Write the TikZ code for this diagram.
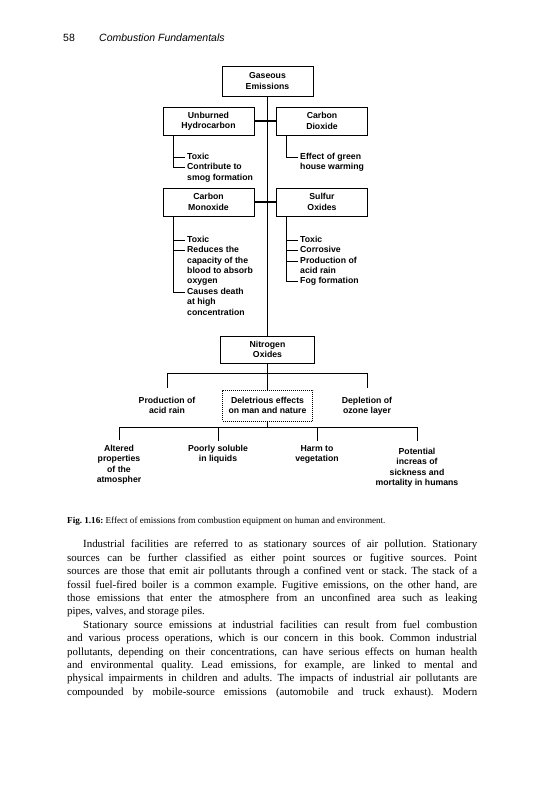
\documentclass[tikz,border=0pt]{standalone}
\usepackage{fontspec}
\setmainfont{Liberation Serif}
\setsansfont{Liberation Sans}
\usetikzlibrary{positioning,calc}
\frenchspacing

\newcommand\diagtext{\sffamily\bfseries\fontsize{8.7}{10.4}\selectfont}
\newcommand\stackl[1]{\begin{tabular}[t]{@{}l@{}}#1\end{tabular}}
\newcommand\stackc[1]{\begin{tabular}[t]{@{}c@{}}#1\end{tabular}}

\tikzset{
  emission/.style={draw, line width=0.9pt, minimum width=91pt, minimum height=28pt,
    inner sep=0pt, align=center, font=\diagtext},
  effectnote/.style={inner sep=0pt, anchor=mid west, font=\diagtext},
  effect/.style={inner sep=0pt, anchor=mid, font=\diagtext},
  trunk/.style={line width=1.1pt},
  branch/.style={line width=0.6pt},
}

\begin{document}
\begin{tikzpicture}[x=1pt,y=-1pt]
  \useasboundingbox (0,0) rectangle (535,800);

  % Running head
  \node[anchor=west, inner sep=0pt, font=\sffamily\fontsize{10.5}{12}\selectfont] (pagenum) at (63,38) {58};
  \node[anchor=west, inner sep=0pt, font=\sffamily\itshape\fontsize{10.5}{12}\selectfont] (runhead) at (99,38) {Combustion Fundamentals};

  % Pollutant boxes
  \node[emission, minimum height=30pt] (gas) at (267.5,81) {Gaseous\\Emissions};
  \node[emission] (uhc) at (208.5,121) {Unburned\\Hydrocarbon};
  \node[emission] (cdx) at (322,121) {Carbon\\Dioxide};
  \node[emission] (cmo) at (208.5,202) {Carbon\\Monoxide};
  \node[emission] (sox) at (322,202) {Sulfur\\Oxides};
  \node[emission, minimum width=94pt, minimum height=27pt] (nox) at (267.5,349.5) {Nitrogen\\Oxides};

  \draw[trunk] (gas.south) -- (nox.north);
  \draw[trunk] (uhc.east) -- (cdx.west);
  \draw[trunk] (cmo.east) -- (sox.west);

  % Effects of unburned hydrocarbon
  \coordinate (uhcbar) at ($(uhc.south west)+(11,0)$);
  \node[effectnote] (uhc1) at (187,157) {Toxic};
  \node[effectnote] (uhc2) at (187,167.4) {\stackl{Contribute to\\smog formation}};
  \draw[branch] (uhcbar) |- ($(uhc2.mid west)+(-2,0)$);
  \draw[branch] (uhcbar |- uhc1.mid west) -- ($(uhc1.mid west)+(-2,0)$);

  % Effect of carbon dioxide
  \coordinate (cdxbar) at ($(cdx.south west)+(10.5,0)$);
  \node[effectnote] (cdx1) at (300,157) {\stackl{Effect of green\\house warming}};
  \draw[branch] (cdxbar) |- ($(cdx1.mid west)+(-2,0)$);

  % Effects of carbon monoxide
  \coordinate (cmobar) at ($(cmo.south west)+(11,0)$);
  \node[effectnote] (cmo1) at (187,240) {Toxic};
  \node[effectnote] (cmo2) at (187,250.4) {\stackl{Reduces the\\capacity of the\\blood to absorb\\oxygen}};
  \node[effectnote] (cmo3) at (187,292) {\stackl{Causes death\\at high\\concentration}};
  \draw[branch] (cmobar) |- ($(cmo3.mid west)+(-2,0)$);
  \draw[branch] (cmobar |- cmo1.mid west) -- ($(cmo1.mid west)+(-2,0)$);
  \draw[branch] (cmobar |- cmo2.mid west) -- ($(cmo2.mid west)+(-2,0)$);

  % Effects of sulfur oxides
  \coordinate (soxbar) at ($(sox.south west)+(10.5,0)$);
  \node[effectnote] (sox1) at (300,240) {Toxic};
  \node[effectnote] (sox2) at (300,250.4) {Corrosive};
  \node[effectnote] (sox3) at (300,260.8) {\stackl{Production of\\acid rain}};
  \node[effectnote] (sox4) at (300,281.6) {Fog formation};
  \draw[branch] (soxbar) |- ($(sox4.mid west)+(-2,0)$);
  \draw[branch] (soxbar |- sox1.mid west) -- ($(sox1.mid west)+(-2,0)$);
  \draw[branch] (soxbar |- sox2.mid west) -- ($(sox2.mid west)+(-2,0)$);
  \draw[branch] (soxbar |- sox3.mid west) -- ($(sox3.mid west)+(-2,0)$);

  % Effects of nitrogen oxides
  \node[effect] (acid) at (167,401) {\stackc{Production of\\acid rain}};
  \node[draw, line width=0.6pt, dash pattern=on 1pt off 1pt, minimum width=90pt, minimum height=31pt,
    inner sep=0pt, align=center, font=\diagtext] (harm) at (267.5,405.5) {Deletrious effects\\on man and nature};
  \node[effect] (ozone) at (367,401) {\stackc{Depletion of\\ozone layer}};
  \coordinate (nsplit) at ($(nox.south)+(0,9.5)$);
  \draw[branch] (nox.south) -- (harm.north);
  \draw[branch] ($(acid.north)+(0,-8)$) |- (ozone.north |- nsplit) -- ($(ozone.north)+(0,-8)$);

  % Deletrious effects
  \node[effect] (atmo) at (119,449) {\stackc{Altered\\properties\\of the\\atmospher}};
  \node[effect] (liquid) at (218,449) {\stackc{Poorly soluble\\in liquids}};
  \node[effect] (veget) at (317,449) {\stackc{Harm to\\vegetation}};
  \node[effect] (mortal) at (417,452) {\stackc{Potential\\increas of\\sickness and\\mortality in humans}};
  \coordinate (lsplit) at ($(harm.south)+(0,6)$);
  \draw[branch] (harm.south) -- (lsplit);
  \draw[branch] ($(atmo.north)+(0,-4)$) |- (mortal.north |- lsplit) -- ++(0,14);
  \draw[branch] (liquid.north |- lsplit) -- ++(0,14);
  \draw[branch] (veget.north |- lsplit) -- ++(0,14);

  % Caption and running text
  \node[anchor=base west, inner sep=0pt, font=\fontsize{9.1}{10}\selectfont] (caption) at (67,523)
    {\textbf{Fig. 1.16:} Effect of emissions from combustion equipment on human and environment.};
  \node[anchor=north west, inner sep=0pt, text width=410pt, align=justify, font=\fontsize{10.9}{13.4}\selectfont] (body) at (67,540) {%
    \noindent\hspace*{16pt}Industrial facilities are referred to as stationary sources of air pollution. Stationary\linebreak
    sources can be further classified as either point sources or fugitive sources. Point\linebreak
    sources are those that emit air pollutants through a confined vent or stack. The stack of a\linebreak
    fossil fuel-fired boiler is a common example. Fugitive emissions, on the other hand, are\linebreak
    those emissions that enter the atmosphere from an unconfined area such as leaking\linebreak
    pipes, valves, and storage piles.\par
    {\noindent\hspace*{16pt}Stationary source emissions at industrial facilities can result from fuel combustion\linebreak
    and various process operations, which is our concern in this book. Common industrial\linebreak
    pollutants, depending on their concentrations, can have serious effects on human health\linebreak
    and environmental quality. Lead emissions, for example, are linked to mental and\linebreak
    physical impairments in children and adults. The impacts of industrial air pollutants are\linebreak
    compounded by mobile-source emissions (automobile and truck exhaust). Modern\parfillskip=0pt\par}};
\end{tikzpicture}
\end{document}
